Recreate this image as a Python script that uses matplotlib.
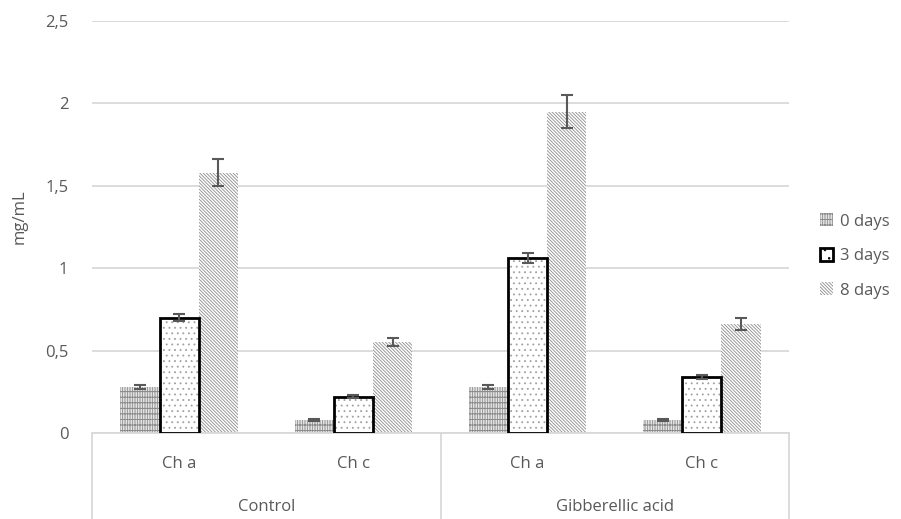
import matplotlib.pyplot as plt
from matplotlib.patches import Patch
import numpy as np

plt.rcParams['font.family'] = ['Open Sans', 'DejaVu Sans']
plt.rcParams['hatch.linewidth'] = 0.6

groups = ['Control', 'Gibberellic acid']
pigments = ['Ch a', 'Ch c', 'Ch a', 'Ch c']
series = ['0 days', '3 days', '8 days']

day0 = [0.28, 0.08, 0.28, 0.08]
day3 = [0.70, 0.22, 1.06, 0.34]
day8 = [1.58, 0.55, 1.95, 0.66]
err0 = [0.01, 0.006, 0.01, 0.006]
err3 = [0.02, 0.008, 0.03, 0.01]
err8 = [0.08, 0.025, 0.10, 0.035]

values = [day0, day3, day8]
errors = [err0, err3, err8]
hatches = ['|' * 10 + '-' * 3, '...', '\\' * 10]
hatch_cols = ['#8c8c8c', '#a0a0a0', '#8c8c8c']
grey = '#595959'

fig = plt.figure(figsize=(9.01, 5.19), dpi=100)
ax = fig.add_axes([92 / 901, 86 / 519, 697 / 901, 412 / 519])

x = np.arange(len(pigments))
w = 0.225
for i, (vals, errs) in enumerate(zip(values, errors)):
    pos = x + (i - 1) * w
    ax.bar(pos, vals, w, color='white', edgecolor=hatch_cols[i],
           hatch=hatches[i], linewidth=0, zorder=2)
    if i == 1:
        ax.bar(pos, vals, w, fill=False, edgecolor='black', linewidth=2, zorder=3)
    ax.errorbar(pos, vals, yerr=errs, fmt='none', ecolor=grey,
                elinewidth=1.5, capsize=4, capthick=1.5, zorder=4)

ax.set_xlim(-0.5, 3.5)
ax.set_ylim(0, 2.5)
ax.set_yticks(np.arange(0, 2.51, 0.5))
ax.set_yticklabels(['0', '0,5', '1', '1,5', '2', '2,5'])
ax.tick_params(axis='y', length=0, labelsize=12, colors=grey, pad=17)
ax.set_xticks([])
ax.grid(axis='y', color='#d9d9d9', linewidth=1.3, zorder=0)
ax.set_axisbelow(True)
for s in ax.spines.values():
    s.set_visible(False)
ax.set_ylabel('mg/mL', fontsize=12, color=grey)
ax.yaxis.set_label_coords(-0.092, 0.524)

# category box below the axis
trans = ax.get_xaxis_transform()
line_kw = dict(color='#d9d9d9', linewidth=1.3, clip_on=False, transform=trans)
ax.plot([-0.5, 3.5], [0, 0], **line_kw)
for xv in [-0.5, 1.5, 3.5]:
    ax.plot([xv, xv], [0, -0.25], **line_kw)
for xi, lab in zip(x, pigments):
    ax.text(xi, -0.075, lab, transform=trans, ha='center', va='center',
            fontsize=12, color=grey)
for gi, g in enumerate(groups):
    ax.text(gi * 2 + 0.5, -0.18, g, transform=trans, ha='center',
            va='center', fontsize=12, color=grey)

handles = [Patch(facecolor='white', edgecolor=hatch_cols[0], hatch=hatches[0], linewidth=0),
           Patch(facecolor='white', edgecolor='black', hatch='..', linewidth=2),
           Patch(facecolor='white', edgecolor=hatch_cols[2], hatch=hatches[2], linewidth=0)]
fig.legend(handles, series, loc='center left', bbox_to_anchor=(805 / 901, 1 - 256 / 519),
           frameon=False, fontsize=12, labelcolor=grey, handlelength=0.8,
           handleheight=0.8, handletextpad=0.4, labelspacing=1.1)

fig.savefig('out.png', dpi=100)
